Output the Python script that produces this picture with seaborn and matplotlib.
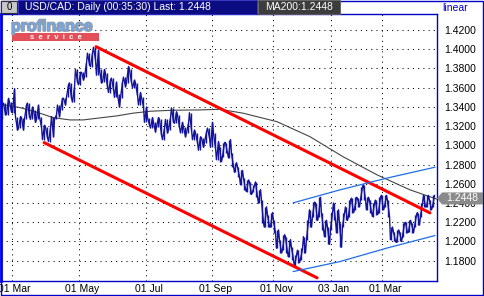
import matplotlib
matplotlib.use("Agg")
import matplotlib.pyplot as plt
import matplotlib.patheffects as pe
from matplotlib.patches import Rectangle, Polygon
from matplotlib.transforms import ScaledTranslation, blended_transform_factory
import seaborn as sns
import pandas as pd

# ---------------- data ----------------
highs = [1.342, 1.344, 1.349, 1.345, 1.359, 1.330, 1.330, 1.329, 1.342, 1.344,
         1.340, 1.337, 1.342, 1.330, 1.321, 1.319, 1.318, 1.330, 1.332, 1.342,
         1.349, 1.349, 1.363, 1.365, 1.361, 1.379, 1.376, 1.376, 1.386, 1.396,
         1.396, 1.402, 1.399, 1.379, 1.379, 1.375, 1.368, 1.370, 1.366, 1.353,
         1.366, 1.371, 1.382, 1.379, 1.368, 1.365, 1.355, 1.350, 1.340, 1.329,
         1.329, 1.324, 1.329, 1.327, 1.318, 1.327, 1.329, 1.339, 1.335, 1.332,
         1.324, 1.319, 1.323, 1.334, 1.316, 1.313, 1.309, 1.308, 1.314, 1.318,
         1.324, 1.313, 1.304, 1.298, 1.303, 1.303, 1.306, 1.292, 1.282, 1.278,
         1.274, 1.266, 1.264, 1.262, 1.259, 1.262, 1.254, 1.243, 1.236, 1.228,
         1.230, 1.222, 1.212, 1.202, 1.207, 1.205, 1.202, 1.194, 1.186, 1.191,
         1.193, 1.205, 1.222, 1.233, 1.241, 1.240, 1.246, 1.230, 1.222, 1.215,
         1.230, 1.240, 1.233, 1.219, 1.230, 1.236, 1.243, 1.245, 1.246, 1.245,
         1.257, 1.259, 1.246, 1.243, 1.240, 1.243, 1.246, 1.248, 1.248, 1.243,
         1.215, 1.210, 1.212, 1.210, 1.219, 1.220, 1.222, 1.219, 1.228, 1.230,
         1.240, 1.248, 1.248, 1.243, 1.248]
lows = [1.327, 1.332, 1.332, 1.335, 1.334, 1.316, 1.318, 1.316, 1.327, 1.330,
        1.327, 1.324, 1.327, 1.319, 1.306, 1.308, 1.304, 1.309, 1.327, 1.330,
        1.337, 1.342, 1.350, 1.349, 1.345, 1.366, 1.363, 1.368, 1.371, 1.384,
        1.382, 1.389, 1.373, 1.365, 1.366, 1.361, 1.355, 1.358, 1.350, 1.340,
        1.349, 1.361, 1.365, 1.366, 1.360, 1.352, 1.342, 1.340, 1.324, 1.321,
        1.318, 1.314, 1.319, 1.311, 1.306, 1.313, 1.316, 1.324, 1.323, 1.319,
        1.313, 1.309, 1.313, 1.316, 1.306, 1.303, 1.295, 1.298, 1.303, 1.308,
        1.298, 1.297, 1.285, 1.283, 1.288, 1.292, 1.287, 1.278, 1.272, 1.267,
        1.259, 1.254, 1.252, 1.249, 1.251, 1.246, 1.240, 1.219, 1.215, 1.215,
        1.215, 1.209, 1.193, 1.188, 1.191, 1.188, 1.184, 1.181, 1.174, 1.178,
        1.181, 1.188, 1.202, 1.215, 1.226, 1.222, 1.226, 1.212, 1.205, 1.197,
        1.212, 1.222, 1.209, 1.194, 1.215, 1.222, 1.226, 1.230, 1.233, 1.236,
        1.243, 1.243, 1.233, 1.230, 1.226, 1.228, 1.230, 1.233, 1.236, 1.226,
        1.202, 1.200, 1.199, 1.200, 1.205, 1.209, 1.210, 1.209, 1.215, 1.217,
        1.226, 1.236, 1.236, 1.233, 1.236]
last_price = 1.2448
ma200_value = 1.2448

ma_slots = [-0.5, 6.2, 12.8, 17.2, 22.8, 27.2, 32.8, 38.5, 43.8, 49.5,
            57.2, 66.2, 72.8, 80.5, 91.8, 102.8, 113.8, 125.2, 136.2, 145.2]
ma_values = [1.3428, 1.3393, 1.3335, 1.3289, 1.3265, 1.3265, 1.3286, 1.3307, 1.3335, 1.3355,
             1.3366, 1.3369, 1.3376, 1.3335, 1.3247, 1.3091, 1.2883, 1.2693, 1.2537, 1.2440]

red_upper_slots = [31.5, 142.8]
red_upper_values = [1.4027, 1.2298]
red_lower_slots = [14.2, 105.2]
red_lower_values = [1.3029, 1.1622]
blue_upper_slots = [97.2, 112.8, 128.4, 144.5]
blue_upper_values = [1.2402, 1.2537, 1.2659, 1.2773]
blue_lower_slots = [97.2, 112.8, 128.4, 144.5]
blue_lower_values = [1.1687, 1.1791, 1.1931, 1.2062]

y_ticks = [1.18, 1.20, 1.22, 1.24, 1.26, 1.28, 1.30, 1.32, 1.34, 1.36, 1.38, 1.40, 1.42]
x_tick_slots = [3.4, 25.9, 48.1, 70.3, 90.6, 109.7, 126.9]
x_tick_labels = ["01 Mar", "01 May", "01 Jul", "01 Sep", "01 Nov", "03 Jan", "01 Mar"]

# ---------------- styling ----------------
sns.set_theme(style="white")
plt.rcParams['font.family'] = ['Liberation Sans', 'DejaVu Sans']

W, H = 485, 296
NAVY = "#14149a"
SPINE = "#0000c8"

fig = plt.figure(figsize=(W / 100, H / 100), dpi=100)
fig.patch.set_facecolor("white")
ax = fig.add_axes([1 / W, 15 / H, 436 / W, 267 / H])
ax.set_facecolor("white")

# price bars: vertical high-low ranges joined by a zig-zag path
bars = pd.DataFrame({"slot": range(len(highs)), "high": highs, "low": lows})
ax.vlines(bars["slot"], bars["low"], bars["high"], color=NAVY, lw=1.0, zorder=4)
path_rows = []
for i, (h, l) in enumerate(zip(highs, lows)):
    first, second = (l, h) if i % 2 == 0 else (h, l)
    path_rows.append({"order": 2 * i, "slot": i - 0.35, "v": first})
    path_rows.append({"order": 2 * i + 1, "slot": i + 0.35, "v": second})
path = pd.DataFrame(path_rows)
sns.lineplot(data=path, x="slot", y="v", sort=False, estimator=None, color=NAVY,
             lw=1.0, ax=ax, zorder=4)

ma = pd.DataFrame({"slot": ma_slots, "v": ma_values})
sns.lineplot(data=ma, x="slot", y="v", color="#454545", lw=0.8, ax=ax, zorder=3)

for xs, ys, c, lw in [(red_upper_slots, red_upper_values, "#ff0000", 2.2),
                      (red_lower_slots, red_lower_values, "#ff0000", 2.2),
                      (blue_upper_slots, blue_upper_values, "#1f6ee8", 0.9),
                      (blue_lower_slots, blue_lower_values, "#1f6ee8", 0.9)]:
    d = pd.DataFrame({"slot": xs, "v": ys})
    sns.lineplot(data=d, x="slot", y="v", color=c, lw=lw, ax=ax, zorder=5)

ax.set_xlim(-0.17, 145.17)
ax.set_ylim(1.1589, 1.4367)
ax.set_xlabel("")
ax.set_ylabel("")

ax.set_yticks(y_ticks)
ax.set_yticklabels([f"{v:.4f}" for v in y_ticks])
ax.yaxis.tick_right()
ax.set_xticks(x_tick_slots)
ax.set_xticklabels(x_tick_labels)
ax.tick_params(axis="y", length=0, pad=5, labelsize=7.5, colors="black")
ax.tick_params(axis="x", length=0, pad=2, labelsize=7.5, colors="black")
for lab in ax.get_xticklabels():
    lab.set_transform(lab.get_transform() + ScaledTranslation(3 / 100, 0, fig.dpi_scale_trans))

ax.grid(True, color="black", linestyle=(0, (1, 4)), lw=0.75)
ax.set_axisbelow(True)

for side in ["top", "right", "bottom"]:
    ax.spines[side].set_color(SPINE)
    ax.spines[side].set_linewidth(1.0)
ax.spines["left"].set_color("#0000ff")
ax.spines["left"].set_linewidth(2.0)


def fx(px):
    return px / W


def fy(py):
    return 1 - py / H


def frect(x0, y0, x1, y1, **kw):
    fig.add_artist(Rectangle((fx(x0), fy(y1)), (x1 - x0) / W, (y1 - y0) / H,
                             transform=fig.transFigure, **kw))


# outer frame
frect(0.5, 0.5, 483.5, 295, fill=False, edgecolor=SPINE, lw=1.0)

# header
frect(1, 1, 17, 13, facecolor="#c8c8c8", edgecolor="#303030", lw=0.8)
fig.text(fx(9), fy(7), "0", fontsize=7, color="black", ha="center", va="center")
frect(18, 0, 257, 14, facecolor="#0c0c82", edgecolor="#3030c0", lw=0.6)
fig.text(fx(25), fy(7.5), "USD/CAD: Daily (00:35:30) Last: 1.2448", fontsize=7.5,
         color="white", ha="left", va="center")
frect(258, 0, 340, 14, facecolor="#3c3c3c", edgecolor="#606060", lw=0.6)
fig.text(fx(265), fy(7.5), f"MA200:{ma200_value:.4f}", fontsize=7.5,
         color="white", ha="left", va="center")
fig.text(fx(442), fy(8), "linear", fontsize=7.5, color="#0000c8", ha="left", va="center")

# logo
fig.text(fx(11), fy(26.5), "profinance", fontsize=11.5, weight="bold", color="#72a6e6",
         ha="left", va="center",
         path_effects=[pe.withStroke(linewidth=1.2, foreground="#9a9a9a")])
frect(12, 33, 99, 41, facecolor="#e4505a", edgecolor="none")
fig.text(fx(55.5), fy(37.2), "s  e  r  v  i  c  e", fontsize=5.5, weight="bold", color="white",
         ha="center", va="center")

# last-price marker on the right
bt = blended_transform_factory(fig.transFigure, ax.transData)
hh = 6 * 0.0010406
fig.add_artist(Polygon([(fx(437), last_price), (fx(442), last_price + hh),
                        (fx(483), last_price + hh), (fx(483), last_price - hh),
                        (fx(442), last_price - hh)], closed=True,
                       transform=bt, facecolor="#8a8a8a", edgecolor="none", zorder=10))
fig.text(fx(446), last_price, f"{last_price:.4f}", transform=bt, fontsize=7.5,
         color="white", ha="left", va="center", zorder=11)

fig.savefig("out.png", dpi=100)
